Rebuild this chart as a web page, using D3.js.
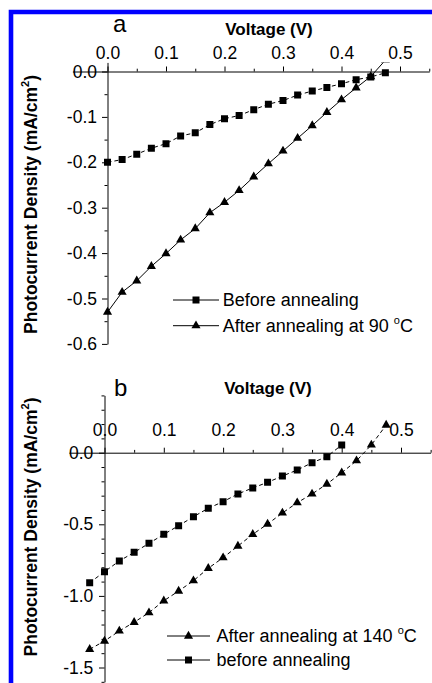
<!DOCTYPE html>
<html><head><meta charset="utf-8">
<script src="https://cdn.jsdelivr.net/npm/d3@7"></script>
<style>
body{margin:0;background:#fff;}
svg{display:block;}
text{font-family:"Liberation Sans",Arial,sans-serif;fill:#000;}
</style>
</head><body>
<svg id="chart" width="432" height="683"></svg>
<script>
// ---------- data ----------
const voltageA = [0,0.025,0.05,0.075,0.1,0.125,0.15,0.175,0.2,0.225,0.25,0.275,0.3,0.325,0.35,0.375,0.4,0.425,0.45,0.475];
const beforeA  = [-0.200,-0.194,-0.182,-0.169,-0.159,-0.142,-0.135,-0.117,-0.104,-0.097,-0.084,-0.072,-0.064,-0.052,-0.043,-0.035,-0.027,-0.018,-0.012,-0.003];
const after90A = [-0.530,-0.486,-0.461,-0.429,-0.401,-0.371,-0.346,-0.311,-0.288,-0.262,-0.232,-0.203,-0.175,-0.147,-0.119,-0.090,-0.062,-0.036,-0.011,0.025];

const voltageBbefore = [-0.025,0,0.025,0.05,0.075,0.1,0.125,0.15,0.175,0.2,0.225,0.25,0.275,0.3,0.325,0.35,0.375,0.4];
const beforeB = [-0.908,-0.831,-0.756,-0.696,-0.633,-0.570,-0.510,-0.447,-0.388,-0.342,-0.288,-0.246,-0.207,-0.163,-0.121,-0.070,-0.028,0.054];
const voltageBafter = [-0.025,0,0.025,0.05,0.075,0.1,0.125,0.15,0.175,0.2,0.225,0.25,0.275,0.3,0.325,0.35,0.375,0.4,0.425,0.45,0.475];
const after140B = [-1.373,-1.315,-1.245,-1.184,-1.117,-1.034,-0.966,-0.894,-0.807,-0.733,-0.652,-0.570,-0.498,-0.421,-0.349,-0.288,-0.219,-0.140,-0.056,0.054,0.193];

const xTicks = [0,0.1,0.2,0.3,0.4,0.5];
const xMinor = [0.05,0.15,0.25,0.35,0.45,0.55];
const yTicksA = [0,-0.1,-0.2,-0.3,-0.4,-0.5,-0.6];
const yMinorA = [-0.05,-0.15,-0.25,-0.35,-0.45,-0.55];
const yTicksB = [0,-0.5,-1.0,-1.5];
const yMinorB = [0.4,0.3,0.2,0.1,-0.1,-0.2,-0.3,-0.4,-0.6,-0.7,-0.8,-0.9,-1.1,-1.2,-1.3,-1.4,-1.6];

const xTitle = "Voltage (V)";
const yTitleMain = "Photocurrent Density (mA/cm";
const legendA = ["Before annealing", "After annealing at 90 "];
const legendB = ["After annealing at 140 ", "before annealing"];

// ---------- drawing ----------
const svg = d3.select("#chart");
const fmt = d => d.toFixed(1);

function panel(cfg){
  const x = d3.scaleLinear().domain([-0.06,0.55]).range(cfg.xRange);
  const y = d3.scaleLinear().domain(cfg.yDomain).range(cfg.yRange);
  const g = svg.append("g");
  const clipId = "clip" + cfg.name;
  svg.append("clipPath").attr("id", clipId).append("rect")
    .attr("x", x.range()[0]).attr("y", y.range()[0])
    .attr("width", x.range()[1]-x.range()[0]).attr("height", y.range()[1]-y.range()[0]);

  // x axis (top, at y=0)
  g.append("g").attr("transform", `translate(0,${y(0)})`)
    .call(d3.axisTop(x).tickValues(xTicks).tickSize(5).tickSizeOuter(0).tickPadding(cfg.xPad).tickFormat(fmt));
  g.append("g").attr("transform", `translate(0,${y(0)})`)
    .call(d3.axisTop(x).tickValues(xMinor).tickSize(2.8).tickSizeOuter(0).tickFormat(""))
    .select(".domain").remove();
  // y axis (left, at x=0)
  g.append("g").attr("transform", `translate(${x(0)},0)`)
    .call(d3.axisLeft(y).tickValues(cfg.yTicks).tickSize(5.5).tickSizeOuter(0).tickPadding(cfg.yPad).tickFormat(fmt));
  g.append("g").attr("transform", `translate(${x(0)},0)`)
    .call(d3.axisLeft(y).tickValues(cfg.yMinor).tickSize(3).tickSizeOuter(0).tickFormat(""))
    .select(".domain").remove();
  g.selectAll(".domain, .tick line").attr("stroke","#000").attr("stroke-width",1);
  g.selectAll(".tick text").attr("font-size","17.5px").attr("fill","#000")
    .style("font-family","'Liberation Sans',Arial,sans-serif");

  // titles
  g.append("text").attr("x", cfg.xTitleX).attr("y", cfg.xTitleY).attr("text-anchor","middle")
    .attr("font-size","17px").attr("font-weight","bold").text(xTitle);
  const yt = g.append("text").attr("text-anchor","middle").attr("font-size","17.5px").attr("font-weight","bold")
    .attr("transform", `translate(37,${cfg.yTitleCY}) rotate(-90)`);
  yt.append("tspan").text(yTitleMain);
  yt.append("tspan").attr("font-size","11px").attr("dy","-8").text("2");
  yt.append("tspan").attr("dy","8").text(")");

  g.append("text").attr("x", cfg.letterX).attr("y", cfg.letterY).attr("font-size","24px").text(cfg.letter);

  const plot = g.append("g").attr("clip-path", `url(#${clipId})`);
  cfg.series.forEach(s => {
    const pts = s.xs.map((v,i)=>[v, s.ys[i]]);
    plot.append("path").datum(pts)
      .attr("fill","none").attr("stroke","#000").attr("stroke-width",1)
      .attr("stroke-dasharray", s.dash ? "4,3" : null)
      .attr("d", d3.line().x(d=>x(d[0])).y(d=>y(d[1])));
    plot.selectAll(null).data(pts).enter().append("path")
      .attr("transform", d=>`translate(${x(d[0])},${y(d[1])})`)
      .attr("d", d3.symbol().type(s.sym).size(s.sym===d3.symbolSquare?49:36)())
      .attr("fill","#000");
  });

  // legend
  cfg.legend.forEach((L,i) => {
    const ly = cfg.legY[i];
    g.append("line").attr("x1", cfg.legX[0]).attr("x2", cfg.legX[1]).attr("y1", ly).attr("y2", ly)
      .attr("stroke","#000").attr("stroke-width",1);
    g.append("path").attr("transform", `translate(${(cfg.legX[0]+cfg.legX[1])/2},${ly})`)
      .attr("d", d3.symbol().type(L.sym).size(L.sym===d3.symbolSquare?49:36)()).attr("fill","#000");
    const t = g.append("text").attr("x", cfg.legX[1]+cfg.legGap).attr("y", ly+6.4).attr("font-size","18px");
    t.append("tspan").text(L.text);
    if (L.deg) {
      t.append("tspan").attr("font-size","11px").attr("dy","-8").text("o");
      t.append("tspan").attr("dy","8").text("C");
    }
  });
}

panel({
  name:"a", letter:"a", letterX:113, letterY:31.5,
  xRange:[107.5-0.06*585, 107.5+0.55*585],
  yDomain:[0.02,-0.6], yRange:[71.5-0.02*454, 71.5+0.6*454],
  yTicks:yTicksA, yMinor:yMinorA, xPad:7.7, yPad:5,
  xTitleX:269, xTitleY:35, yTitleCY:204.5,
  series:[
    {xs:voltageA, ys:beforeA, sym:d3.symbolSquare, dash:true},
    {xs:voltageA, ys:after90A, sym:d3.symbolTriangle, dash:false}
  ],
  legX:[173,219], legY:[300,325.7], legGap:3.7,
  legend:[{text:legendA[0], sym:d3.symbolSquare},{text:legendA[1], sym:d3.symbolTriangle, deg:true}]
});

panel({
  name:"b", letter:"b", letterX:114, letterY:396,
  xRange:[104.5-0.06*593, 104.5+0.55*593],
  yDomain:[0.4,-1.6], yRange:[452.7-0.4*143.2, 452.7+1.6*143.2],
  yTicks:yTicksB, yMinor:yMinorB, xPad:11.3, yPad:5.7,
  xTitleX:268, xTitleY:393.5, yTitleCY:527,
  series:[
    {xs:voltageBbefore, ys:beforeB, sym:d3.symbolSquare, dash:true},
    {xs:voltageBafter, ys:after140B, sym:d3.symbolTriangle, dash:true}
  ],
  legX:[167,210], legY:[636,660], legGap:6.5,
  legend:[{text:legendB[0], sym:d3.symbolTriangle, deg:true},{text:legendB[1], sym:d3.symbolSquare}]
});

// blue frame
svg.append("path").attr("d","M11,683V12H432").attr("fill","none").attr("stroke","#0000ff").attr("stroke-width",4.6);
</script>
</body></html>
